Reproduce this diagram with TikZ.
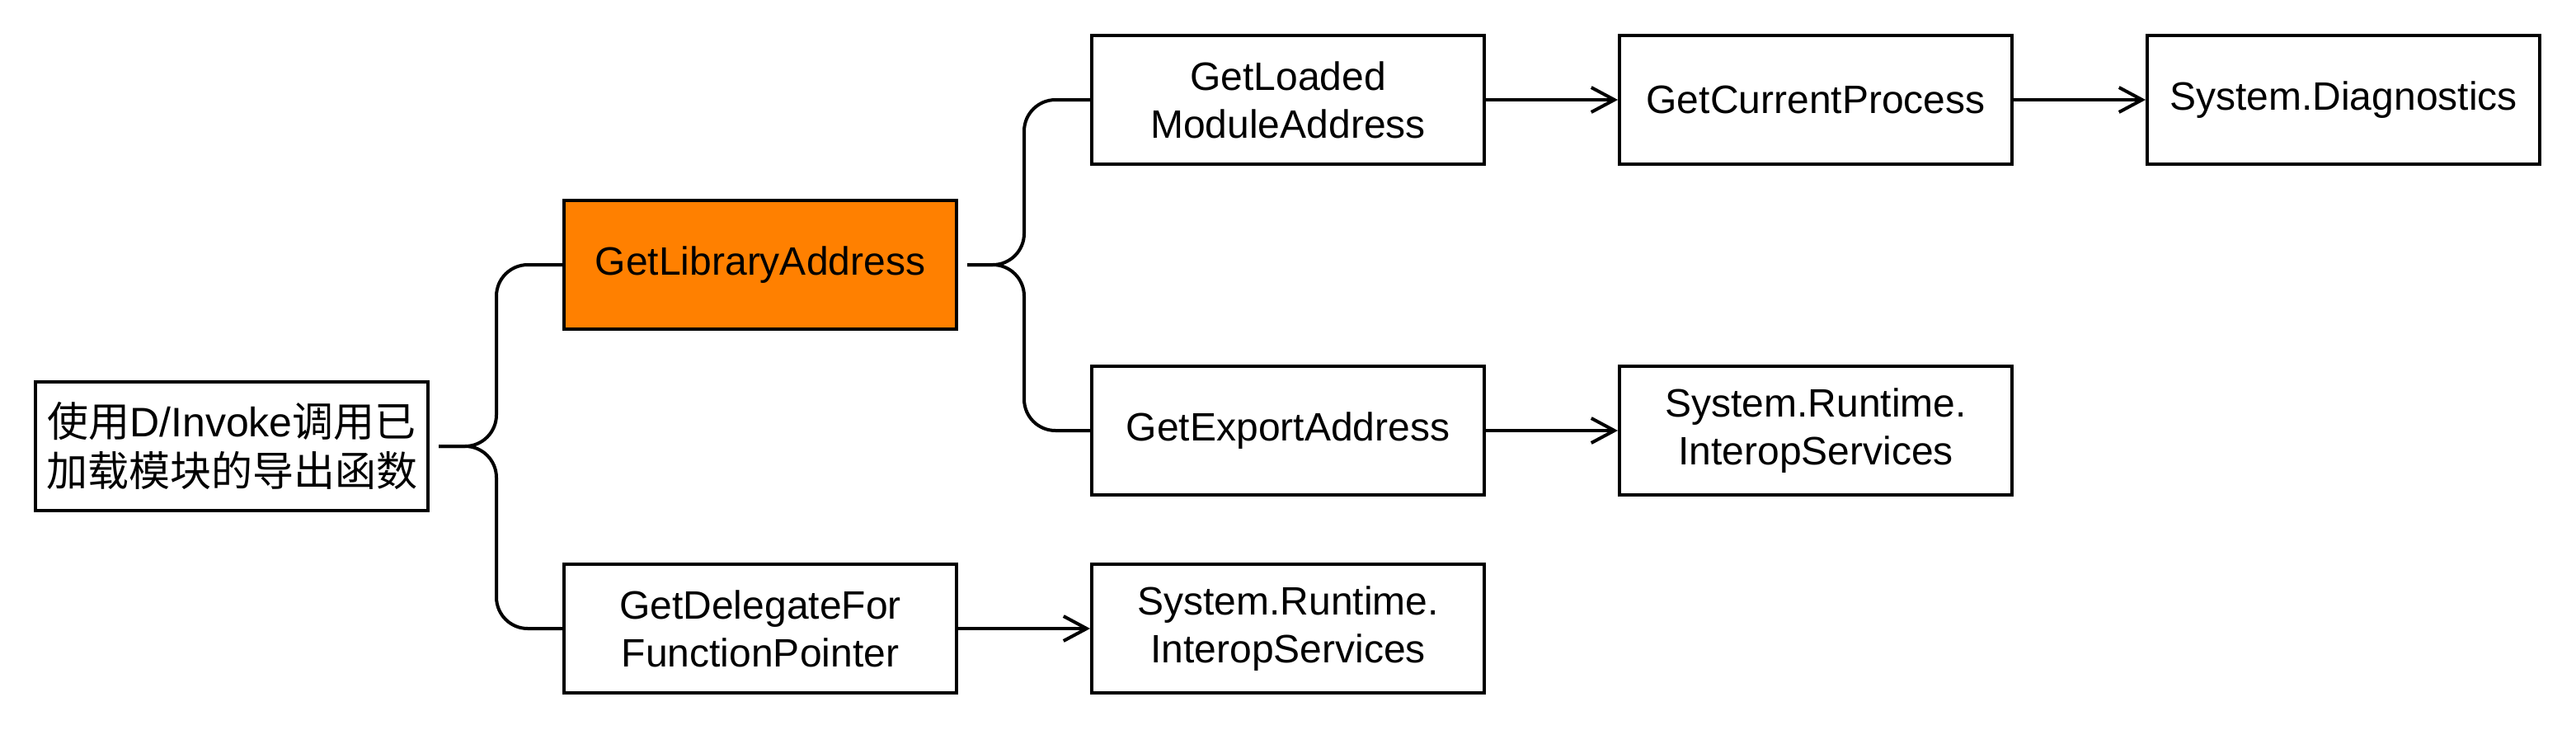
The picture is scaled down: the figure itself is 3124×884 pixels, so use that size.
\documentclass[tikz,border=0pt]{standalone}
\usepackage{fontspec}
\setmainfont{Liberation Sans}
\newfontfamily\cjk{Noto Sans CJK SC}
\usetikzlibrary{arrows.meta}
\definecolor{hl}{HTML}{FF8000}
\begin{document}
\begin{tikzpicture}[x=0.5pt,y=-0.5pt,
  box/.style={draw=black,line width=2pt,fill=white,minimum width=238pt,minimum height=78pt,inner sep=0pt,align=center,font=\fontsize{24}{29}\selectfont},
  conn/.style={line width=2pt,line join=round},
  branch/.style={conn,rounded corners=19pt,shorten <=5.5pt},
  arr/.style={conn,-{Straight Barb[length=14pt,width=15pt,line width=2pt]}}]
\useasboundingbox (0,0) rectangle (3124,884);
\fill[white] (0,0) rectangle (3124,884);
\node[box,font=\fontsize{25}{30}\selectfont] (root) at (281,541) {{\cjk 使用}D/Invoke{\cjk 调用已}\\\cjk 加载模块的导出函数};
\node[box,fill=hl] (gla) at (922,321) {GetLibraryAddress};
\node[box] (gdfp) at (922,762) {GetDelegateFor\\FunctionPointer};
\node[box] (glma) at (1562,121) {GetLoaded\\ModuleAddress};
\node[box] (gea) at (1562,522) {GetExportAddress};
\node[box] (sris2) at (1562,762) {System.Runtime.\\InteropServices};
\node[box] (gcp) at (2202,121) {GetCurrentProcess};
\node[box] (sris1) at (2202,522) {System.Runtime.\\InteropServices};
\node[box] (sd) at (2842,121) {System.Diagnostics};
\draw[branch] (root.east) -| ([xshift=-40pt]gla.west) -- (gla.west);
\draw[branch] (root.east) -| ([xshift=-40pt]gdfp.west) -- (gdfp.west);
\draw[branch] (gla.east) -| ([xshift=-40pt]glma.west) -- (glma.west);
\draw[branch] (gla.east) -| ([xshift=-40pt]gea.west) -- (gea.west);
\draw[arr] (glma) -- (gcp);
\draw[arr] (gcp) -- (sd);
\draw[arr] (gea) -- (sris1);
\draw[arr] (gdfp) -- (sris2);
\end{tikzpicture}
\end{document}
